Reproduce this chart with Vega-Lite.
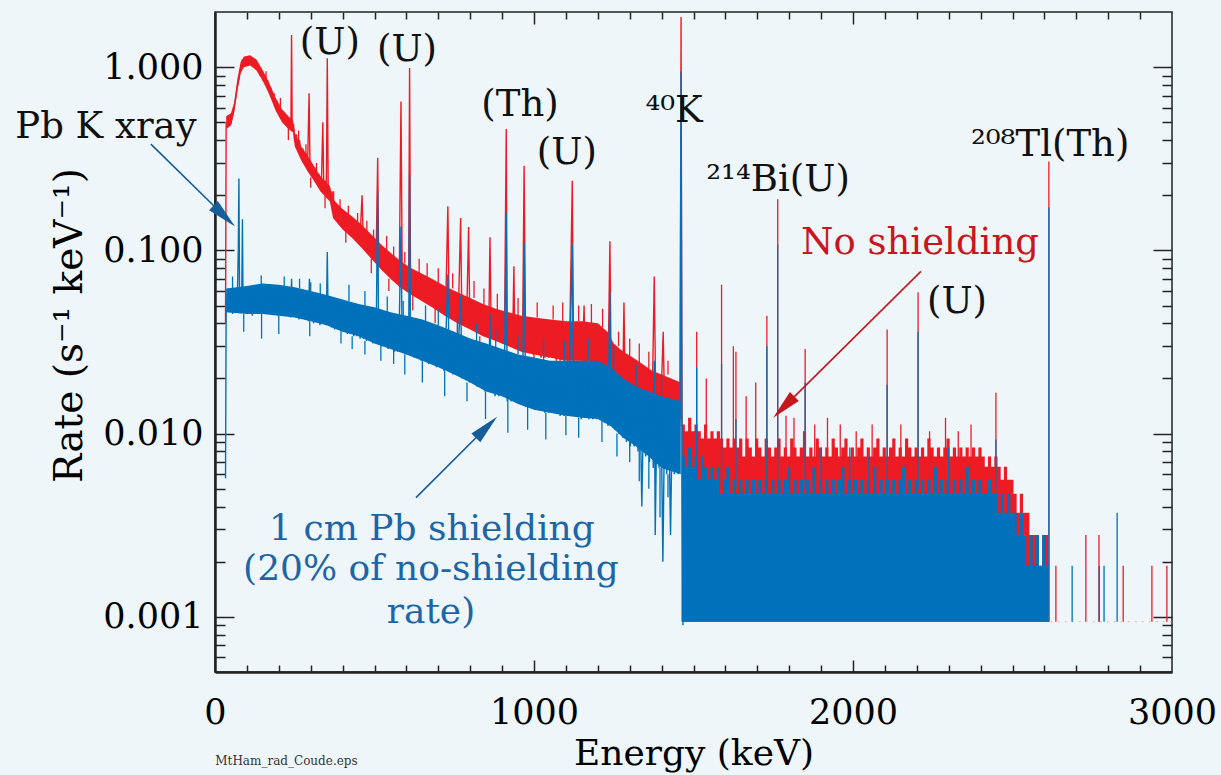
{
"$schema":"https://vega.github.io/schema/vega-lite/v6.json",
"width":957,"height":660,"autosize":"none",
"padding":{"left":215,"top":12,"right":49,"bottom":103},
"background":"#eef6fa",
"config":{"font":"DejaVu Serif","axis":{"grid":false,"labelFont":"DejaVu Serif","titleFont":"DejaVu Serif","labelColor":"#000","titleColor":"#000","titleFontWeight":"normal"},"view":{"stroke":"#222","strokeWidth":1.5}},
"resolve":{"axis":{"x":"independent","y":"independent"}},
"datasets":{
"dummy":[{"E":1000,"r":0.01}],
"redCore":[{"E":35,"lo":0.46,"hi":0.54},{"E":50,"lo":0.48,"hi":0.56},{"E":60,"lo":0.56,"hi":0.64},{"E":70,"lo":0.74,"hi":0.86},{"E":80,"lo":0.92,"hi":1.06},{"E":90,"lo":1.0,"hi":1.14},{"E":110,"lo":1.02,"hi":1.16},{"E":130,"lo":0.96,"hi":1.1},{"E":150,"lo":0.84,"hi":0.96},{"E":170,"lo":0.71,"hi":0.82},{"E":190,"lo":0.58,"hi":0.68},{"E":210,"lo":0.5,"hi":0.59},{"E":230,"lo":0.46,"hi":0.54},{"E":245,"lo":0.44,"hi":0.51},{"E":250,"lo":0.37,"hi":0.44},{"E":270,"lo":0.31,"hi":0.37},{"E":290,"lo":0.27,"hi":0.33},{"E":310,"lo":0.24,"hi":0.29},{"E":330,"lo":0.21,"hi":0.255},{"E":360,"lo":0.185,"hi":0.225},{"E":370,"lo":0.15,"hi":0.19},{"E":400,"lo":0.13,"hi":0.168},{"E":430,"lo":0.117,"hi":0.153},{"E":460,"lo":0.103,"hi":0.138},{"E":490,"lo":0.09,"hi":0.122},{"E":520,"lo":0.079,"hi":0.108},{"E":550,"lo":0.07,"hi":0.097},{"E":580,"lo":0.063,"hi":0.088},{"E":610,"lo":0.058,"hi":0.081},{"E":640,"lo":0.054,"hi":0.076},{"E":680,"lo":0.049,"hi":0.07},{"E":720,"lo":0.044,"hi":0.064},{"E":760,"lo":0.04,"hi":0.059},{"E":800,"lo":0.037,"hi":0.055},{"E":840,"lo":0.034,"hi":0.051},{"E":880,"lo":0.032,"hi":0.048},{"E":920,"lo":0.03,"hi":0.046},{"E":960,"lo":0.028,"hi":0.044},{"E":1000,"lo":0.027,"hi":0.043},{"E":1050,"lo":0.026,"hi":0.042},{"E":1100,"lo":0.025,"hi":0.041},{"E":1150,"lo":0.025,"hi":0.041},{"E":1200,"lo":0.024,"hi":0.04},{"E":1230,"lo":0.022,"hi":0.036},{"E":1250,"lo":0.02,"hi":0.031},{"E":1280,"lo":0.018,"hi":0.028},{"E":1310,"lo":0.016,"hi":0.026},{"E":1340,"lo":0.0145,"hi":0.024},{"E":1370,"lo":0.0135,"hi":0.022},{"E":1400,"lo":0.0125,"hi":0.021},{"E":1460,"lo":0.012,"hi":0.019}],
"blueCore":[{"E":35,"lo":0.046,"hi":0.062},{"E":100,"lo":0.045,"hi":0.064},{"E":150,"lo":0.045,"hi":0.066},{"E":200,"lo":0.044,"hi":0.065},{"E":250,"lo":0.043,"hi":0.063},{"E":300,"lo":0.041,"hi":0.06},{"E":350,"lo":0.039,"hi":0.057},{"E":400,"lo":0.036,"hi":0.054},{"E":450,"lo":0.034,"hi":0.051},{"E":500,"lo":0.031,"hi":0.049},{"E":550,"lo":0.029,"hi":0.046},{"E":600,"lo":0.027,"hi":0.044},{"E":650,"lo":0.025,"hi":0.042},{"E":700,"lo":0.023,"hi":0.039},{"E":750,"lo":0.021,"hi":0.036},{"E":800,"lo":0.019,"hi":0.033},{"E":850,"lo":0.017,"hi":0.031},{"E":900,"lo":0.016,"hi":0.029},{"E":950,"lo":0.0145,"hi":0.027},{"E":1000,"lo":0.0135,"hi":0.026},{"E":1050,"lo":0.013,"hi":0.025},{"E":1100,"lo":0.0125,"hi":0.025},{"E":1150,"lo":0.0122,"hi":0.025},{"E":1200,"lo":0.012,"hi":0.025},{"E":1240,"lo":0.011,"hi":0.023},{"E":1280,"lo":0.0095,"hi":0.02},{"E":1320,"lo":0.0085,"hi":0.018},{"E":1360,"lo":0.0075,"hi":0.017},{"E":1400,"lo":0.0065,"hi":0.016},{"E":1460,"lo":0.006,"hi":0.015}],
"redNz":[{"E":160,"r":0.95,"b":0.85},{"E":205,"r":0.68,"b":0.6},{"E":262,"r":0.45,"b":0.38},{"E":285,"r":0.38,"b":0.32},{"E":318,"r":0.3,"b":0.26},{"E":372,"r":0.21,"b":0.18},{"E":392,"r":0.19,"b":0.16},{"E":418,"r":0.175,"b":0.15},{"E":447,"r":0.16,"b":0.13},{"E":476,"r":0.145,"b":0.12},{"E":497,"r":0.13,"b":0.11},{"E":538,"r":0.12,"b":0.1},{"E":560,"r":0.105,"b":0.09},{"E":595,"r":0.098,"b":0.085},{"E":640,"r":0.09,"b":0.075},{"E":665,"r":0.085,"b":0.07},{"E":700,"r":0.08,"b":0.066},{"E":745,"r":0.075,"b":0.062},{"E":812,"r":0.068,"b":0.055},{"E":843,"r":0.062,"b":0.05},{"E":885,"r":0.058,"b":0.047},{"E":950,"r":0.055,"b":0.044},{"E":1010,"r":0.052,"b":0.043},{"E":1060,"r":0.05,"b":0.042},{"E":1090,"r":0.052,"b":0.041},{"E":1140,"r":0.05,"b":0.041},{"E":1180,"r":0.051,"b":0.04},{"E":1215,"r":0.048,"b":0.038},{"E":1265,"r":0.036,"b":0.03},{"E":1300,"r":0.033,"b":0.026},{"E":1330,"r":0.031,"b":0.024},{"E":1360,"r":0.028,"b":0.022},{"E":1420,"r":0.025,"b":0.021},{"E":230,"r":0.4,"b":0.47},{"E":300,"r":0.22,"b":0.25},{"E":345,"r":0.17,"b":0.2},{"E":410,"r":0.11,"b":0.135},{"E":490,"r":0.075,"b":0.09},{"E":545,"r":0.06,"b":0.07},{"E":620,"r":0.047,"b":0.058},{"E":690,"r":0.04,"b":0.049},{"E":760,"r":0.034,"b":0.04},{"E":830,"r":0.029,"b":0.034},{"E":1000,"r":0.023,"b":0.027},{"E":1180,"r":0.021,"b":0.025},{"E":1270,"r":0.015,"b":0.018},{"E":1350,"r":0.012,"b":0.0145},{"E":1440,"r":0.0095,"b":0.012}],
"blueNz":[{"E":55,"r":0.072,"b":0.06},{"E":145,"r":0.073,"b":0.064},{"E":217,"r":0.072,"b":0.064},{"E":265,"r":0.07,"b":0.062},{"E":300,"r":0.067,"b":0.06},{"E":330,"r":0.066,"b":0.057},{"E":420,"r":0.065,"b":0.053},{"E":470,"r":0.06,"b":0.05},{"E":540,"r":0.056,"b":0.046},{"E":590,"r":0.053,"b":0.044},{"E":660,"r":0.05,"b":0.04},{"E":700,"r":0.048,"b":0.039},{"E":760,"r":0.043,"b":0.036},{"E":820,"r":0.04,"b":0.032},{"E":880,"r":0.037,"b":0.029},{"E":950,"r":0.034,"b":0.027},{"E":1030,"r":0.033,"b":0.025},{"E":1095,"r":0.032,"b":0.025},{"E":1170,"r":0.033,"b":0.025},{"E":1250,"r":0.03,"b":0.022},{"E":1320,"r":0.024,"b":0.018},{"E":1400,"r":0.021,"b":0.016},{"E":90,"r":0.036,"b":0.045},{"E":146,"r":0.033,"b":0.045},{"E":200,"r":0.035,"b":0.044},{"E":297,"r":0.034,"b":0.041},{"E":395,"r":0.031,"b":0.036},{"E":430,"r":0.029,"b":0.034},{"E":470,"r":0.027,"b":0.032},{"E":520,"r":0.025,"b":0.031},{"E":560,"r":0.024,"b":0.029},{"E":595,"r":0.021,"b":0.027},{"E":650,"r":0.019,"b":0.025},{"E":720,"r":0.016,"b":0.022},{"E":790,"r":0.015,"b":0.019},{"E":848,"r":0.012,"b":0.017},{"E":918,"r":0.0101,"b":0.016},{"E":980,"r":0.0105,"b":0.014},{"E":1037,"r":0.0093,"b":0.013},{"E":1100,"r":0.0098,"b":0.0125},{"E":1140,"r":0.0095,"b":0.0122},{"E":1213,"r":0.009,"b":0.012},{"E":1260,"r":0.0075,"b":0.01},{"E":1300,"r":0.007,"b":0.009},{"E":1330,"r":0.0055,"b":0.0085},{"E":1360,"r":0.005,"b":0.0075},{"E":1395,"r":0.0035,"b":0.0065},{"E":1420,"r":0.0045,"b":0.006}],
"red":[{"E":33,"r":0.04},{"E":35,"r":0.5},{"E":40,"r":0.47},{"E":45,"r":0.53},{"E":50,"r":0.49},{"E":55,"r":0.55},{"E":60,"r":0.6},{"E":65,"r":0.68},{"E":70,"r":0.78},{"E":75,"r":0.86},{"E":80,"r":0.98},{"E":85,"r":1.08},{"E":90,"r":1.02},{"E":95,"r":1.14},{"E":100,"r":1.06},{"E":105,"r":1.15},{"E":110,"r":1.04},{"E":115,"r":1.13},{"E":120,"r":1.02},{"E":125,"r":1.1},{"E":130,"r":0.98},{"E":135,"r":1.04},{"E":140,"r":0.92},{"E":145,"r":0.97},{"E":150,"r":0.86},{"E":155,"r":0.9},{"E":160,"r":0.8},{"E":165,"r":0.85},{"E":170,"r":0.73},{"E":175,"r":0.77},{"E":180,"r":0.67},{"E":185,"r":0.72},{"E":190,"r":0.6},{"E":195,"r":0.65},{"E":200,"r":0.56},{"E":205,"r":0.6},{"E":210,"r":0.52},{"E":215,"r":0.57},{"E":220,"r":0.5},{"E":225,"r":0.54},{"E":230,"r":0.47},{"E":235,"r":0.52},{"E":238,"r":0.48},{"E":240,"r":1.5},{"E":242,"r":0.47},{"E":246,"r":0.49},{"E":250,"r":0.39},{"E":255,"r":0.43},{"E":260,"r":0.35},{"E":265,"r":0.4},{"E":270,"r":0.32},{"E":275,"r":0.36},{"E":280,"r":0.3},{"E":285,"r":0.34},{"E":290,"r":0.28},{"E":295,"r":0.72},{"E":298,"r":0.27},{"E":302,"r":0.3},{"E":306,"r":0.25},{"E":310,"r":0.28},{"E":314,"r":0.24},{"E":318,"r":0.27},{"E":322,"r":0.23},{"E":326,"r":0.26},{"E":330,"r":0.22},{"E":334,"r":0.25},{"E":338,"r":0.5},{"E":341,"r":0.22},{"E":345,"r":0.24},{"E":349,"r":0.21},{"E":352,"r":1.12},{"E":355,"r":0.2},{"E":359,"r":0.22},{"E":363,"r":0.19},{"E":367,"r":0.21},{"E":371,"r":0.16},{"E":376,"r":0.18},{"E":381,"r":0.15},{"E":386,"r":0.17},{"E":391,"r":0.145},{"E":396,"r":0.165},{"E":401,"r":0.14},{"E":406,"r":0.16},{"E":411,"r":0.135},{"E":416,"r":0.155},{"E":421,"r":0.13},{"E":426,"r":0.15},{"E":431,"r":0.125},{"E":436,"r":0.145},{"E":441,"r":0.12},{"E":446,"r":0.14},{"E":451,"r":0.115},{"E":456,"r":0.13},{"E":461,"r":0.2},{"E":465,"r":0.11},{"E":470,"r":0.125},{"E":475,"r":0.105},{"E":480,"r":0.12},{"E":485,"r":0.1},{"E":490,"r":0.115},{"E":495,"r":0.095},{"E":500,"r":0.11},{"E":505,"r":0.09},{"E":510,"r":0.32},{"E":513,"r":0.09},{"E":518,"r":0.105},{"E":523,"r":0.085},{"E":528,"r":0.1},{"E":533,"r":0.082},{"E":538,"r":0.095},{"E":543,"r":0.078},{"E":548,"r":0.092},{"E":553,"r":0.075},{"E":558,"r":0.088},{"E":563,"r":0.072},{"E":568,"r":0.085},{"E":573,"r":0.07},{"E":578,"r":0.082},{"E":583,"r":0.65},{"E":587,"r":0.068},{"E":592,"r":0.08},{"E":597,"r":0.065},{"E":602,"r":0.078},{"E":607,"r":0.063},{"E":610,"r":0.99},{"E":613,"r":0.062},{"E":618,"r":0.076},{"E":623,"r":0.06},{"E":628,"r":0.074},{"E":633,"r":0.058},{"E":640,"r":0.072},{"E":646,"r":0.056},{"E":652,"r":0.07},{"E":658,"r":0.054},{"E":664,"r":0.068},{"E":670,"r":0.052},{"E":676,"r":0.066},{"E":682,"r":0.05},{"E":688,"r":0.064},{"E":694,"r":0.049},{"E":700,"r":0.062},{"E":706,"r":0.048},{"E":712,"r":0.06},{"E":718,"r":0.046},{"E":724,"r":0.059},{"E":730,"r":0.174},{"E":734,"r":0.045},{"E":740,"r":0.057},{"E":746,"r":0.043},{"E":752,"r":0.056},{"E":758,"r":0.042},{"E":764,"r":0.054},{"E":770,"r":0.15},{"E":774,"r":0.041},{"E":780,"r":0.052},{"E":786,"r":0.04},{"E":790,"r":0.051},{"E":795,"r":0.134},{"E":799,"r":0.039},{"E":804,"r":0.05},{"E":810,"r":0.038},{"E":816,"r":0.049},{"E":822,"r":0.037},{"E":828,"r":0.048},{"E":834,"r":0.036},{"E":840,"r":0.047},{"E":846,"r":0.035},{"E":852,"r":0.046},{"E":858,"r":0.034},{"E":862,"r":0.118},{"E":866,"r":0.034},{"E":872,"r":0.045},{"E":878,"r":0.033},{"E":884,"r":0.044},{"E":890,"r":0.032},{"E":896,"r":0.043},{"E":902,"r":0.031},{"E":908,"r":0.042},{"E":913,"r":0.46},{"E":916,"r":0.031},{"E":922,"r":0.041},{"E":928,"r":0.03},{"E":934,"r":0.04},{"E":937,"r":0.082},{"E":940,"r":0.03},{"E":946,"r":0.04},{"E":952,"r":0.029},{"E":958,"r":0.039},{"E":964,"r":0.029},{"E":969,"r":0.29},{"E":974,"r":0.028},{"E":980,"r":0.038},{"E":986,"r":0.028},{"E":992,"r":0.037},{"E":998,"r":0.027},{"E":1004,"r":0.037},{"E":1010,"r":0.027},{"E":1016,"r":0.036},{"E":1022,"r":0.026},{"E":1028,"r":0.036},{"E":1034,"r":0.026},{"E":1040,"r":0.036},{"E":1046,"r":0.026},{"E":1052,"r":0.035},{"E":1058,"r":0.026},{"E":1064,"r":0.035},{"E":1070,"r":0.025},{"E":1076,"r":0.035},{"E":1082,"r":0.025},{"E":1088,"r":0.035},{"E":1094,"r":0.025},{"E":1100,"r":0.035},{"E":1106,"r":0.025},{"E":1112,"r":0.034},{"E":1120,"r":0.24},{"E":1124,"r":0.025},{"E":1130,"r":0.034},{"E":1136,"r":0.025},{"E":1142,"r":0.034},{"E":1148,"r":0.025},{"E":1154,"r":0.034},{"E":1157,"r":0.05},{"E":1160,"r":0.025},{"E":1166,"r":0.034},{"E":1172,"r":0.024},{"E":1178,"r":0.033},{"E":1184,"r":0.024},{"E":1190,"r":0.033},{"E":1196,"r":0.024},{"E":1202,"r":0.033},{"E":1208,"r":0.023},{"E":1214,"r":0.032},{"E":1220,"r":0.022},{"E":1226,"r":0.031},{"E":1232,"r":0.021},{"E":1238,"r":0.112},{"E":1242,"r":0.02},{"E":1248,"r":0.028},{"E":1254,"r":0.019},{"E":1260,"r":0.026},{"E":1266,"r":0.018},{"E":1272,"r":0.025},{"E":1278,"r":0.017},{"E":1282,"r":0.052},{"E":1286,"r":0.017},{"E":1292,"r":0.024},{"E":1298,"r":0.016},{"E":1304,"r":0.023},{"E":1310,"r":0.015},{"E":1316,"r":0.022},{"E":1322,"r":0.015},{"E":1328,"r":0.021},{"E":1334,"r":0.014},{"E":1340,"r":0.021},{"E":1346,"r":0.014},{"E":1352,"r":0.02},{"E":1358,"r":0.013},{"E":1364,"r":0.02},{"E":1370,"r":0.013},{"E":1377,"r":0.072},{"E":1382,"r":0.013},{"E":1388,"r":0.019},{"E":1394,"r":0.012},{"E":1400,"r":0.019},{"E":1405,"r":0.036},{"E":1410,"r":0.012},{"E":1416,"r":0.018},{"E":1422,"r":0.012},{"E":1428,"r":0.018},{"E":1434,"r":0.012},{"E":1440,"r":0.017},{"E":1446,"r":0.012},{"E":1452,"r":0.017},{"E":1458,"r":0.012},{"E":1461,"r":1.88},{"E":1464,"r":0.011}],
"blue":[{"E":33,"r":0.0057},{"E":35,"r":0.05},{"E":40,"r":0.058},{"E":45,"r":0.046},{"E":50,"r":0.056},{"E":55,"r":0.045},{"E":60,"r":0.06},{"E":65,"r":0.047},{"E":70,"r":0.055},{"E":73,"r":0.1},{"E":75,"r":0.247},{"E":77,"r":0.05},{"E":81,"r":0.058},{"E":84,"r":0.06},{"E":86,"r":0.148},{"E":88,"r":0.048},{"E":92,"r":0.057},{"E":97,"r":0.045},{"E":102,"r":0.06},{"E":107,"r":0.046},{"E":112,"r":0.058},{"E":117,"r":0.044},{"E":122,"r":0.062},{"E":127,"r":0.047},{"E":132,"r":0.059},{"E":137,"r":0.045},{"E":142,"r":0.063},{"E":147,"r":0.046},{"E":152,"r":0.06},{"E":157,"r":0.045},{"E":162,"r":0.065},{"E":167,"r":0.047},{"E":172,"r":0.061},{"E":177,"r":0.045},{"E":182,"r":0.064},{"E":187,"r":0.046},{"E":192,"r":0.06},{"E":197,"r":0.044},{"E":202,"r":0.062},{"E":207,"r":0.045},{"E":212,"r":0.059},{"E":217,"r":0.044},{"E":222,"r":0.061},{"E":227,"r":0.045},{"E":232,"r":0.058},{"E":237,"r":0.043},{"E":240,"r":0.07},{"E":243,"r":0.044},{"E":248,"r":0.06},{"E":253,"r":0.043},{"E":258,"r":0.058},{"E":263,"r":0.042},{"E":268,"r":0.06},{"E":273,"r":0.043},{"E":278,"r":0.057},{"E":283,"r":0.042},{"E":288,"r":0.058},{"E":293,"r":0.041},{"E":296,"r":0.07},{"E":299,"r":0.042},{"E":304,"r":0.056},{"E":309,"r":0.04},{"E":314,"r":0.057},{"E":319,"r":0.041},{"E":324,"r":0.055},{"E":329,"r":0.039},{"E":334,"r":0.056},{"E":339,"r":0.04},{"E":344,"r":0.054},{"E":349,"r":0.039},{"E":352,"r":0.098},{"E":355,"r":0.039},{"E":360,"r":0.054},{"E":365,"r":0.038},{"E":370,"r":0.053},{"E":375,"r":0.037},{"E":380,"r":0.054},{"E":385,"r":0.037},{"E":390,"r":0.052},{"E":395,"r":0.036},{"E":400,"r":0.053},{"E":405,"r":0.036},{"E":410,"r":0.051},{"E":415,"r":0.035},{"E":420,"r":0.052},{"E":425,"r":0.035},{"E":430,"r":0.05},{"E":435,"r":0.034},{"E":440,"r":0.051},{"E":445,"r":0.034},{"E":450,"r":0.049},{"E":455,"r":0.033},{"E":460,"r":0.05},{"E":465,"r":0.033},{"E":470,"r":0.048},{"E":475,"r":0.032},{"E":480,"r":0.049},{"E":485,"r":0.032},{"E":490,"r":0.047},{"E":495,"r":0.031},{"E":500,"r":0.048},{"E":505,"r":0.031},{"E":510,"r":0.21},{"E":513,"r":0.031},{"E":518,"r":0.046},{"E":523,"r":0.03},{"E":528,"r":0.047},{"E":533,"r":0.03},{"E":538,"r":0.045},{"E":543,"r":0.029},{"E":548,"r":0.046},{"E":553,"r":0.029},{"E":558,"r":0.044},{"E":563,"r":0.028},{"E":568,"r":0.045},{"E":573,"r":0.028},{"E":578,"r":0.043},{"E":583,"r":0.135},{"E":587,"r":0.028},{"E":592,"r":0.043},{"E":597,"r":0.027},{"E":602,"r":0.042},{"E":607,"r":0.027},{"E":610,"r":0.26},{"E":613,"r":0.027},{"E":618,"r":0.041},{"E":623,"r":0.026},{"E":628,"r":0.042},{"E":633,"r":0.026},{"E":640,"r":0.04},{"E":646,"r":0.025},{"E":652,"r":0.04},{"E":658,"r":0.025},{"E":664,"r":0.039},{"E":670,"r":0.024},{"E":676,"r":0.038},{"E":682,"r":0.024},{"E":688,"r":0.037},{"E":694,"r":0.023},{"E":700,"r":0.037},{"E":706,"r":0.023},{"E":712,"r":0.036},{"E":718,"r":0.022},{"E":724,"r":0.035},{"E":730,"r":0.074},{"E":734,"r":0.022},{"E":740,"r":0.034},{"E":746,"r":0.021},{"E":752,"r":0.034},{"E":758,"r":0.021},{"E":764,"r":0.033},{"E":770,"r":0.057},{"E":774,"r":0.02},{"E":780,"r":0.032},{"E":786,"r":0.02},{"E":792,"r":0.031},{"E":798,"r":0.019},{"E":804,"r":0.031},{"E":810,"r":0.019},{"E":816,"r":0.03},{"E":822,"r":0.018},{"E":828,"r":0.03},{"E":834,"r":0.018},{"E":840,"r":0.029},{"E":846,"r":0.017},{"E":852,"r":0.029},{"E":858,"r":0.017},{"E":862,"r":0.045},{"E":866,"r":0.017},{"E":872,"r":0.028},{"E":878,"r":0.016},{"E":884,"r":0.028},{"E":890,"r":0.016},{"E":896,"r":0.027},{"E":902,"r":0.016},{"E":908,"r":0.027},{"E":913,"r":0.16},{"E":916,"r":0.015},{"E":922,"r":0.026},{"E":928,"r":0.015},{"E":934,"r":0.026},{"E":940,"r":0.015},{"E":946,"r":0.025},{"E":952,"r":0.0145},{"E":958,"r":0.025},{"E":964,"r":0.0145},{"E":969,"r":0.11},{"E":974,"r":0.014},{"E":980,"r":0.025},{"E":986,"r":0.014},{"E":992,"r":0.024},{"E":998,"r":0.014},{"E":1004,"r":0.024},{"E":1010,"r":0.0135},{"E":1016,"r":0.024},{"E":1022,"r":0.0135},{"E":1028,"r":0.024},{"E":1034,"r":0.013},{"E":1040,"r":0.023},{"E":1046,"r":0.013},{"E":1052,"r":0.024},{"E":1058,"r":0.013},{"E":1064,"r":0.023},{"E":1070,"r":0.013},{"E":1076,"r":0.023},{"E":1082,"r":0.0125},{"E":1088,"r":0.023},{"E":1094,"r":0.0125},{"E":1100,"r":0.024},{"E":1106,"r":0.0125},{"E":1112,"r":0.023},{"E":1120,"r":0.108},{"E":1124,"r":0.0125},{"E":1130,"r":0.023},{"E":1136,"r":0.0125},{"E":1142,"r":0.024},{"E":1148,"r":0.012},{"E":1154,"r":0.023},{"E":1160,"r":0.0125},{"E":1166,"r":0.024},{"E":1172,"r":0.012},{"E":1178,"r":0.023},{"E":1184,"r":0.012},{"E":1190,"r":0.024},{"E":1196,"r":0.012},{"E":1202,"r":0.023},{"E":1208,"r":0.012},{"E":1214,"r":0.023},{"E":1220,"r":0.0115},{"E":1226,"r":0.022},{"E":1232,"r":0.011},{"E":1238,"r":0.059},{"E":1242,"r":0.011},{"E":1248,"r":0.021},{"E":1254,"r":0.0105},{"E":1260,"r":0.02},{"E":1266,"r":0.01},{"E":1272,"r":0.02},{"E":1278,"r":0.0095},{"E":1284,"r":0.019},{"E":1290,"r":0.009},{"E":1296,"r":0.018},{"E":1302,"r":0.0085},{"E":1308,"r":0.018},{"E":1314,"r":0.0085},{"E":1320,"r":0.017},{"E":1326,"r":0.008},{"E":1332,"r":0.017},{"E":1338,"r":0.004},{"E":1344,"r":0.016},{"E":1350,"r":0.0075},{"E":1356,"r":0.016},{"E":1362,"r":0.007},{"E":1368,"r":0.016},{"E":1374,"r":0.0065},{"E":1377,"r":0.025},{"E":1380,"r":0.0028},{"E":1386,"r":0.016},{"E":1392,"r":0.0065},{"E":1398,"r":0.015},{"E":1404,"r":0.002},{"E":1410,"r":0.015},{"E":1416,"r":0.006},{"E":1422,"r":0.015},{"E":1428,"r":0.0028},{"E":1434,"r":0.014},{"E":1440,"r":0.006},{"E":1446,"r":0.014},{"E":1452,"r":0.006},{"E":1458,"r":0.014},{"E":1461,"r":0.95},{"E":1464,"r":0.006},{"E":1467,"r":0.0009}],
"redHi":[{"E":1463,"r":0.0112},{"E":1473,"r":0.0103},{"E":1483,"r":0.0122},{"E":1493,"r":0.0103},{"E":1503,"r":0.0112},{"E":1513,"r":0.0103},{"E":1523,"r":0.0094},{"E":1533,"r":0.0112},{"E":1543,"r":0.0094},{"E":1553,"r":0.0103},{"E":1563,"r":0.0094},{"E":1573,"r":0.0103},{"E":1583,"r":0.0094},{"E":1593,"r":0.0084},{"E":1603,"r":0.0094},{"E":1613,"r":0.0084},{"E":1623,"r":0.0094},{"E":1633,"r":0.0084},{"E":1643,"r":0.0094},{"E":1653,"r":0.0075},{"E":1663,"r":0.0094},{"E":1673,"r":0.0084},{"E":1683,"r":0.0075},{"E":1693,"r":0.0094},{"E":1703,"r":0.0084},{"E":1713,"r":0.0075},{"E":1723,"r":0.0094},{"E":1733,"r":0.0084},{"E":1743,"r":0.0075},{"E":1753,"r":0.0084},{"E":1763,"r":0.0094},{"E":1773,"r":0.0075},{"E":1783,"r":0.0084},{"E":1793,"r":0.0075},{"E":1803,"r":0.0094},{"E":1813,"r":0.0084},{"E":1823,"r":0.0075},{"E":1833,"r":0.0084},{"E":1843,"r":0.0103},{"E":1853,"r":0.0075},{"E":1863,"r":0.0084},{"E":1873,"r":0.0075},{"E":1883,"r":0.0094},{"E":1893,"r":0.0084},{"E":1903,"r":0.0075},{"E":1913,"r":0.0084},{"E":1923,"r":0.0075},{"E":1933,"r":0.0094},{"E":1943,"r":0.0084},{"E":1953,"r":0.0075},{"E":1963,"r":0.0084},{"E":1973,"r":0.0094},{"E":1983,"r":0.0075},{"E":1993,"r":0.0084},{"E":2003,"r":0.0075},{"E":2013,"r":0.0084},{"E":2023,"r":0.0094},{"E":2033,"r":0.0075},{"E":2043,"r":0.0084},{"E":2053,"r":0.0075},{"E":2063,"r":0.0084},{"E":2073,"r":0.0094},{"E":2083,"r":0.0075},{"E":2093,"r":0.0084},{"E":2103,"r":0.0075},{"E":2113,"r":0.0084},{"E":2123,"r":0.0094},{"E":2133,"r":0.0075},{"E":2143,"r":0.0084},{"E":2153,"r":0.0075},{"E":2163,"r":0.0094},{"E":2173,"r":0.0084},{"E":2183,"r":0.0075},{"E":2193,"r":0.0084},{"E":2203,"r":0.0075},{"E":2213,"r":0.0084},{"E":2223,"r":0.0075},{"E":2233,"r":0.0094},{"E":2243,"r":0.0084},{"E":2253,"r":0.0075},{"E":2263,"r":0.0084},{"E":2273,"r":0.0075},{"E":2283,"r":0.0084},{"E":2293,"r":0.0094},{"E":2303,"r":0.0075},{"E":2313,"r":0.0084},{"E":2323,"r":0.0075},{"E":2333,"r":0.0084},{"E":2343,"r":0.0075},{"E":2353,"r":0.0084},{"E":2363,"r":0.0075},{"E":2373,"r":0.0084},{"E":2383,"r":0.0075},{"E":2393,"r":0.0084},{"E":2403,"r":0.0075},{"E":2413,"r":0.0066},{"E":2423,"r":0.0075},{"E":2433,"r":0.0066},{"E":2443,"r":0.0075},{"E":2453,"r":0.0066},{"E":2463,"r":0.0056},{"E":2473,"r":0.0066},{"E":2483,"r":0.0056},{"E":2493,"r":0.0056},{"E":2503,"r":0.0047},{"E":2513,"r":0.0037},{"E":2523,"r":0.0047},{"E":2533,"r":0.0037},{"E":2543,"r":0.0037},{"E":2553,"r":0.0028},{"E":2563,"r":0.0028},{"E":2573,"r":0.0028},{"E":2583,"r":0.0019},{"E":2593,"r":0.0028},{"E":2603,"r":0.0028},{"E":2612,"r":0.0028}],
"blueHi":[{"E":1463,"r":0.0075},{"E":1473,"r":0.0066},{"E":1483,"r":0.0084},{"E":1493,"r":0.0066},{"E":1503,"r":0.0075},{"E":1513,"r":0.0056},{"E":1523,"r":0.0075},{"E":1533,"r":0.0066},{"E":1543,"r":0.0056},{"E":1553,"r":0.0066},{"E":1563,"r":0.0056},{"E":1573,"r":0.0066},{"E":1583,"r":0.0047},{"E":1593,"r":0.0056},{"E":1603,"r":0.0066},{"E":1613,"r":0.0047},{"E":1623,"r":0.0056},{"E":1633,"r":0.0047},{"E":1643,"r":0.0056},{"E":1653,"r":0.0047},{"E":1663,"r":0.0056},{"E":1673,"r":0.0047},{"E":1683,"r":0.0056},{"E":1693,"r":0.0047},{"E":1703,"r":0.0056},{"E":1713,"r":0.0047},{"E":1723,"r":0.0056},{"E":1733,"r":0.0047},{"E":1743,"r":0.0056},{"E":1753,"r":0.0047},{"E":1763,"r":0.0056},{"E":1773,"r":0.0047},{"E":1783,"r":0.0056},{"E":1793,"r":0.0066},{"E":1803,"r":0.0047},{"E":1813,"r":0.0056},{"E":1823,"r":0.0047},{"E":1833,"r":0.0056},{"E":1843,"r":0.0047},{"E":1853,"r":0.0056},{"E":1863,"r":0.0047},{"E":1873,"r":0.0066},{"E":1883,"r":0.0047},{"E":1893,"r":0.0056},{"E":1903,"r":0.0047},{"E":1913,"r":0.0056},{"E":1923,"r":0.0047},{"E":1933,"r":0.0056},{"E":1943,"r":0.0047},{"E":1953,"r":0.0056},{"E":1963,"r":0.0066},{"E":1973,"r":0.0047},{"E":1983,"r":0.0056},{"E":1993,"r":0.0047},{"E":2003,"r":0.0056},{"E":2013,"r":0.0047},{"E":2023,"r":0.0056},{"E":2033,"r":0.0047},{"E":2043,"r":0.0056},{"E":2053,"r":0.0047},{"E":2063,"r":0.0066},{"E":2073,"r":0.0047},{"E":2083,"r":0.0056},{"E":2093,"r":0.0047},{"E":2103,"r":0.0056},{"E":2113,"r":0.0047},{"E":2123,"r":0.0056},{"E":2133,"r":0.0047},{"E":2143,"r":0.0056},{"E":2153,"r":0.0066},{"E":2163,"r":0.0047},{"E":2173,"r":0.0056},{"E":2183,"r":0.0047},{"E":2193,"r":0.0056},{"E":2203,"r":0.0047},{"E":2213,"r":0.0056},{"E":2223,"r":0.0047},{"E":2233,"r":0.0056},{"E":2243,"r":0.0047},{"E":2253,"r":0.0066},{"E":2263,"r":0.0047},{"E":2273,"r":0.0056},{"E":2283,"r":0.0047},{"E":2293,"r":0.0056},{"E":2303,"r":0.0047},{"E":2313,"r":0.0056},{"E":2323,"r":0.0047},{"E":2333,"r":0.0056},{"E":2343,"r":0.0047},{"E":2353,"r":0.0066},{"E":2363,"r":0.0047},{"E":2373,"r":0.0056},{"E":2383,"r":0.0047},{"E":2393,"r":0.0056},{"E":2403,"r":0.0047},{"E":2413,"r":0.0047},{"E":2423,"r":0.0056},{"E":2433,"r":0.0047},{"E":2443,"r":0.0047},{"E":2453,"r":0.0037},{"E":2463,"r":0.0047},{"E":2473,"r":0.0037},{"E":2483,"r":0.0047},{"E":2493,"r":0.0037},{"E":2503,"r":0.0037},{"E":2513,"r":0.0028},{"E":2523,"r":0.0037},{"E":2533,"r":0.0028},{"E":2543,"r":0.0019},{"E":2553,"r":0.0028},{"E":2563,"r":0.0019},{"E":2573,"r":0.0028},{"E":2583,"r":0.0019},{"E":2593,"r":0.0028},{"E":2603,"r":0.0019},{"E":2612,"r":0.0028}],
"redPk":[{"E":1510,"r":0.036,"b":0.009},{"E":1540,"r":0.02,"b":0.009},{"E":1588,"r":0.065,"b":0.008},{"E":1625,"r":0.03,"b":0.008},{"E":1633,"r":0.028,"b":0.008},{"E":1665,"r":0.016,"b":0.007},{"E":1695,"r":0.019,"b":0.007},{"E":1730,"r":0.044,"b":0.007},{"E":1764,"r":0.19,"b":0.007},{"E":1790,"r":0.0125,"b":0.007},{"E":1815,"r":0.0122,"b":0.007},{"E":1850,"r":0.029,"b":0.007},{"E":1880,"r":0.0112,"b":0.007},{"E":1920,"r":0.0122,"b":0.007},{"E":1960,"r":0.0112,"b":0.007},{"E":2010,"r":0.0103,"b":0.007},{"E":2060,"r":0.0112,"b":0.007},{"E":2107,"r":0.037,"b":0.007},{"E":2150,"r":0.0112,"b":0.007},{"E":2204,"r":0.059,"b":0.007},{"E":2240,"r":0.0103,"b":0.007},{"E":2290,"r":0.0122,"b":0.007},{"E":2330,"r":0.0103,"b":0.007},{"E":2370,"r":0.0112,"b":0.007},{"E":2448,"r":0.0167,"b":0.006},{"E":2614,"r":0.306,"b":0.00094},{"E":2636,"r":0.0019,"b":0.00094},{"E":2730,"r":0.0028,"b":0.00094},{"E":2771,"r":0.0028,"b":0.00094},{"E":2847,"r":0.0019,"b":0.00094},{"E":2937,"r":0.0019,"b":0.00094},{"E":2984,"r":0.0019,"b":0.00094}],
"bluePk":[{"E":1510,"r":0.023,"b":0.005},{"E":1588,"r":0.024,"b":0.005},{"E":1633,"r":0.012,"b":0.005},{"E":1730,"r":0.03,"b":0.005},{"E":1764,"r":0.108,"b":0.005},{"E":1850,"r":0.019,"b":0.005},{"E":1900,"r":0.0084,"b":0.005},{"E":1990,"r":0.0084,"b":0.005},{"E":2050,"r":0.0075,"b":0.005},{"E":2107,"r":0.0185,"b":0.005},{"E":2204,"r":0.036,"b":0.005},{"E":2300,"r":0.0084,"b":0.005},{"E":2448,"r":0.0093,"b":0.004},{"E":2614,"r":0.172,"b":0.00094},{"E":2687,"r":0.0019,"b":0.00094},{"E":2772,"r":0.0019,"b":0.00094},{"E":2787,"r":0.0019,"b":0.00094},{"E":2828,"r":0.0037,"b":0.00094}],
"ann":[{"E":360,"r":1.18,"t":"(U)"},{"E":602,"r":1.08,"t":"(U)"},{"E":956,"r":0.54,"t":"(Th)"},{"E":1103,"r":0.295,"t":"(U)"},{"E":1439,"r":0.5,"t":"⁴⁰K"},{"E":1765,"r":0.21,"t":"²¹⁴Bi(U)"},{"E":2326,"r":0.0458,"t":"(U)"},{"E":2618,"r":0.326,"t":"²⁰⁸Tl(Th)"},{"E":-342,"r":0.41,"t":"Pb K xray"}],
"annRed":[{"E":2210,"r":0.095,"t":"No shielding"}],
"annBlue":[{"E":680,"r":0.00264,"t":"1 cm Pb shielding"},{"E":677,"r":0.00159,"t":"(20% of no-shielding"},{"E":677,"r":0.000927,"t":"rate)"}],
"file":[{"E":224,"r":0.000155,"t":"MtHam_rad_Coude.eps"}],
"arrB":[{"E":-201,"r":0.38,"E2":29,"r2":0.154},{"E":630,"r":0.00447,"E2":851,"r2":0.01083}],
"arrR":[{"E":2213,"r":0.0768,"E2":1783,"r2":0.01396}],
"headPb":[{"E":29,"r":0.154}],
"headB":[{"E":851,"r":0.01083}],
"headR":[{"E":1783,"r":0.01396}]
},
"layer":[
{"data":{"name":"dummy"},"mark":{"type":"point","opacity":0},
 "encoding":{
  "x":{"field":"E","type":"quantitative","scale":{"domain":[0,3000],"nice":false,"zero":false},"axis":{"orient":"bottom","values":[0,1000,2000,3000],"format":"d","ticks":false,"domain":true,"domainColor":"#222","domainWidth":2.5,"labelFontSize":35,"labelPadding":23,"labelFlush":false,"labelOverlap":false,"title":"Energy (keV)","titleFontSize":36,"titlePadding":6}},
  "y":{"field":"r","type":"quantitative","scale":{"type":"log","domain":[0.0005,2],"nice":false},"axis":{"orient":"left","values":[0.001,0.01,0.1,1],"format":".3f","ticks":false,"domain":true,"domainColor":"#222","domainWidth":2.5,"labelFontSize":35,"labelPadding":12,"labelFlush":false,"labelOverlap":false,"title":"Rate (s⁻¹ keV⁻¹)","titleFontSize":39,"titlePadding":13,"titleY":313}}}},
{"data":{"name":"dummy"},"mark":{"type":"point","opacity":0},
 "encoding":{
  "x":{"field":"E","type":"quantitative","axis":{"orient":"bottom","values":[100,200,300,400,500,600,700,800,900,1100,1200,1300,1400,1500,1600,1700,1800,1900,2100,2200,2300,2400,2500,2600,2700,2800,2900],"tickSize":-7,"tickWidth":1.5,"tickColor":"#222","labels":false,"domain":false,"title":null}},
  "y":{"field":"r","type":"quantitative","axis":{"orient":"left","values":[0.0006,0.0007,0.0008,0.0009,0.002,0.003,0.004,0.005,0.006,0.007,0.008,0.009,0.02,0.03,0.04,0.05,0.06,0.07,0.08,0.09,0.2,0.3,0.4,0.5,0.6,0.7,0.8,0.9],"tickSize":-10,"tickWidth":1.5,"tickColor":"#222","labels":false,"domain":false,"title":null}}}},
{"data":{"name":"dummy"},"mark":{"type":"point","opacity":0},
 "encoding":{
  "x":{"field":"E","type":"quantitative","axis":{"orient":"bottom","values":[1000,2000],"tickSize":-12,"tickWidth":1.5,"tickColor":"#222","labels":false,"domain":false,"title":null}},
  "y":{"field":"r","type":"quantitative","axis":{"orient":"left","values":[0.001,0.01,0.1,1],"tickSize":-19,"tickWidth":1.5,"tickColor":"#222","labels":false,"domain":false,"title":null}}}},
{"data":{"name":"dummy"},"mark":{"type":"point","opacity":0},
 "encoding":{
  "x":{"field":"E","type":"quantitative","axis":{"orient":"top","values":[100,200,300,400,500,600,700,800,900,1100,1200,1300,1400,1500,1600,1700,1800,1900,2100,2200,2300,2400,2500,2600,2700,2800,2900],"tickSize":-7,"tickWidth":1.5,"tickColor":"#222","labels":false,"domain":false,"title":null}},
  "y":{"field":"r","type":"quantitative","axis":{"orient":"right","values":[0.0006,0.0007,0.0008,0.0009,0.002,0.003,0.004,0.005,0.006,0.007,0.008,0.009,0.02,0.03,0.04,0.05,0.06,0.07,0.08,0.09,0.2,0.3,0.4,0.5,0.6,0.7,0.8,0.9],"tickSize":-10,"tickWidth":1.5,"tickColor":"#222","labels":false,"domain":false,"title":null}}}},
{"data":{"name":"dummy"},"mark":{"type":"point","opacity":0},
 "encoding":{
  "x":{"field":"E","type":"quantitative","axis":{"orient":"top","values":[1000,2000],"tickSize":-12,"tickWidth":1.5,"tickColor":"#222","labels":false,"domain":false,"title":null}},
  "y":{"field":"r","type":"quantitative","axis":{"orient":"right","values":[0.001,0.01,0.1,1],"tickSize":-19,"tickWidth":1.5,"tickColor":"#222","labels":false,"domain":false,"title":null}}}},
{"data":{"name":"redCore"},"mark":{"type":"area","color":"#ed1c24","clip":true},
 "encoding":{"x":{"field":"E","type":"quantitative","axis":null},"y":{"field":"hi","type":"quantitative","axis":null},"y2":{"field":"lo"}}},
{"data":{"name":"red"},"mark":{"type":"line","color":"#ed1c24","strokeWidth":1.4,"clip":true},
 "encoding":{"x":{"field":"E","type":"quantitative","axis":null},"y":{"field":"r","type":"quantitative","axis":null}}},
{"data":{"name":"redNz"},"mark":{"type":"rule","color":"#ed1c24","strokeWidth":1.3,"clip":true},
 "encoding":{"x":{"field":"E","type":"quantitative","axis":null},"y":{"field":"r","type":"quantitative","axis":null},"y2":{"field":"b"}}},
{"data":{"name":"redHi"},"mark":{"type":"area","color":"#ed1c24","interpolate":"step-after","clip":true},
 "encoding":{"x":{"field":"E","type":"quantitative","axis":null},"y":{"field":"r","type":"quantitative","axis":null},"y2":{"datum":0.00094}}},
{"data":{"name":"redPk"},"mark":{"type":"rule","color":"#ed1c24","strokeWidth":1.3,"clip":true},
 "encoding":{"x":{"field":"E","type":"quantitative","axis":null},"y":{"field":"r","type":"quantitative","axis":null},"y2":{"field":"b"}}},
{"data":{"name":"dummy"},"mark":{"type":"rule","color":"#f0a0a4","strokeWidth":1.2,"strokeDash":[2,5],"opacity":0.8},
 "encoding":{"x":{"datum":2620,"type":"quantitative","axis":null},"x2":{"datum":3000},"y":{"datum":0.00094,"type":"quantitative","axis":null}}},
{"data":{"name":"blueCore"},"mark":{"type":"area","color":"#0071bb","clip":true},
 "encoding":{"x":{"field":"E","type":"quantitative","axis":null},"y":{"field":"hi","type":"quantitative","axis":null},"y2":{"field":"lo"}}},
{"data":{"name":"blue"},"mark":{"type":"line","color":"#0071bb","strokeWidth":1.4,"clip":true},
 "encoding":{"x":{"field":"E","type":"quantitative","axis":null},"y":{"field":"r","type":"quantitative","axis":null}}},
{"data":{"name":"blueNz"},"mark":{"type":"rule","color":"#0071bb","strokeWidth":1.3,"clip":true},
 "encoding":{"x":{"field":"E","type":"quantitative","axis":null},"y":{"field":"r","type":"quantitative","axis":null},"y2":{"field":"b"}}},
{"data":{"name":"blueHi"},"mark":{"type":"area","color":"#0071bb","interpolate":"step-after","clip":true},
 "encoding":{"x":{"field":"E","type":"quantitative","axis":null},"y":{"field":"r","type":"quantitative","axis":null},"y2":{"datum":0.00094}}},
{"data":{"name":"bluePk"},"mark":{"type":"rule","color":"#0071bb","strokeWidth":1.3,"clip":true},
 "encoding":{"x":{"field":"E","type":"quantitative","axis":null},"y":{"field":"r","type":"quantitative","axis":null},"y2":{"field":"b"}}},
{"data":{"name":"arrB"},"mark":{"type":"rule","color":"#175d99","strokeWidth":1.6,"clip":false},
 "encoding":{"x":{"field":"E","type":"quantitative","axis":null},"y":{"field":"r","type":"quantitative","axis":null},"x2":{"field":"E2"},"y2":{"field":"r2"}}},
{"data":{"name":"arrR"},"mark":{"type":"rule","color":"#c4161c","strokeWidth":1.6,"clip":false},
 "encoding":{"x":{"field":"E","type":"quantitative","axis":null},"y":{"field":"r","type":"quantitative","axis":null},"x2":{"field":"E2"},"y2":{"field":"r2"}}},
{"data":{"name":"headPb"},"mark":{"type":"point","shape":"M0,-1L0.42,1L-0.42,1Z","size":900,"angle":134,"filled":true,"opacity":1,"color":"#175d99","clip":false},
 "encoding":{"x":{"field":"E","type":"quantitative","axis":null},"y":{"field":"r","type":"quantitative","axis":null}}},
{"data":{"name":"headB"},"mark":{"type":"point","shape":"M0,-1L0.42,1L-0.42,1Z","size":900,"angle":45,"filled":true,"opacity":1,"color":"#175d99","clip":false},
 "encoding":{"x":{"field":"E","type":"quantitative","axis":null},"y":{"field":"r","type":"quantitative","axis":null}}},
{"data":{"name":"headR"},"mark":{"type":"point","shape":"M0,-1L0.42,1L-0.42,1Z","size":900,"angle":225,"filled":true,"opacity":1,"color":"#c4161c","clip":false},
 "encoding":{"x":{"field":"E","type":"quantitative","axis":null},"y":{"field":"r","type":"quantitative","axis":null}}},
{"data":{"name":"ann"},"mark":{"type":"text","font":"DejaVu Serif","fontSize":37,"color":"#111","align":"center","baseline":"alphabetic","clip":false},
 "encoding":{"x":{"field":"E","type":"quantitative","axis":null},"y":{"field":"r","type":"quantitative","axis":null},"text":{"field":"t"}}},
{"data":{"name":"annRed"},"mark":{"type":"text","font":"DejaVu Serif","fontSize":37,"color":"#c8161e","align":"center","baseline":"alphabetic","clip":false},
 "encoding":{"x":{"field":"E","type":"quantitative","axis":null},"y":{"field":"r","type":"quantitative","axis":null},"text":{"field":"t"}}},
{"data":{"name":"annBlue"},"mark":{"type":"text","font":"DejaVu Serif","fontSize":36,"color":"#1d65a6","align":"center","baseline":"alphabetic","clip":false},
 "encoding":{"x":{"field":"E","type":"quantitative","axis":null},"y":{"field":"r","type":"quantitative","axis":null},"text":{"field":"t"}}},
{"data":{"name":"file"},"mark":{"type":"text","font":"DejaVu Serif","fontSize":12,"color":"#333","align":"center","baseline":"alphabetic","clip":false},
 "encoding":{"x":{"field":"E","type":"quantitative","axis":null},"y":{"field":"r","type":"quantitative","axis":null},"text":{"field":"t"}}}
]
}
